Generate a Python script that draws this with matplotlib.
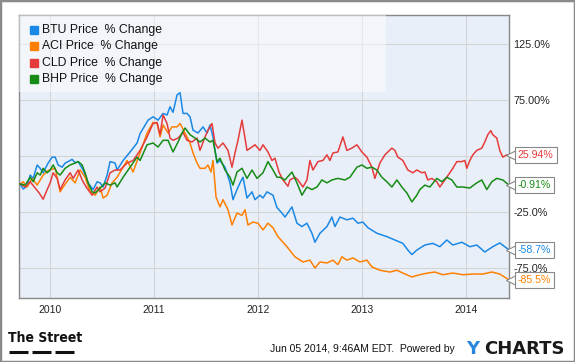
import numpy as np
import matplotlib
matplotlib.use('Agg')
import matplotlib.pyplot as plt
from matplotlib.patches import Rectangle
from matplotlib.lines import Line2D
import matplotlib.transforms as mtransforms

plt.rcParams['font.family'] = ['Liberation Sans', 'DejaVu Sans']

# weeks counted from the first week of 2010, % change since start
btu_w = [-15, -13.5, -11.5, -10, -8.5, -6.5, -5, -3.5, -1, 1, 2.5, 4, 6, 7.5, 9, 11, 12.5, 14, 16.5, 19,
         21.5, 23.5, 25, 26.5, 28.5, 30, 32.5, 33.5, 36.5, 40, 43.5, 45, 49, 51.5, 54, 56.5, 58.5, 60, 61.5,
         63.5, 65, 66.5, 68.5, 70, 71.5, 74, 76.5, 78.5, 80, 81.5, 83.5, 85, 87.5, 90, 91.5, 93.5, 95, 96.5,
         98.5, 101, 102.5, 105, 106.5, 108.5, 111.5, 113.5, 116, 117.5, 121, 123.5, 126, 128.5, 131, 132.5,
         135, 138.5, 141, 142.5, 145, 148.5, 151.5, 154, 156.5, 159, 163.5, 168.5, 172.5, 176.5, 179, 181,
         183.5, 187.5, 191.5, 195, 198.5, 201.5, 206, 210, 213.5, 217.5, 221.5, 225, 227.5, 229.5]
btu_v = [0, -4.5, -1.8, 8, 5, 17, 14, 10, 18.7, 24, 24, 17, 15, 18.7, 20, 22, 19, 20, 12.5, 1,
         -5, 2, 1, -2.7, 8, 20, 18.7, 12.5, 21, 28.6, 36.6, 45, 57, 60, 57, 63, 61.6, 69, 64,
         79.5, 81.5, 63, 63, 60, 48, 45.5, 51, 45.5, 52.7, 42, 18.7, 21, 15, 1, -14, -5, 1, 6,
         -12.5, -7, -14, -10, -12.5, -7, -10, -21, -26, -29.5, -20.5, -35, -38, -35, -44, -52,
         -44, -38, -29.5, -38, -29.5, -32, -30.5, -35, -34, -39, -44, -47, -50, -53, -59, -63,
         -59, -54.5, -53, -56, -50, -54.5, -52, -56, -54.5, -60.7, -56, -52.6, -56, -58.7]

aci_w = [-15, -13.5, -11.5, -9, -6.5, -3.5, -1, 2.5, 5, 6.5, 10, 12.5, 15, 17.5, 20, 22.5, 25, 26.5, 28.5,
         31, 33.5, 38.5, 41.5, 45, 48.5, 51.5, 53.5, 55, 56.5, 59, 61, 63.5, 65, 67.5, 70, 71.5, 73.5, 75,
         77.5, 79, 80.5, 81.5, 83, 85, 86.5, 89, 91, 93.5, 96, 97.5, 99, 101.5, 104, 106.5, 109, 111.5,
         114, 118.5, 122.5, 126.5, 130, 132.5, 135, 138.5, 141.5, 144, 146, 148.5, 151.5, 155, 158.5,
         161, 165, 170, 173.5, 176.5, 181, 185, 189, 192.5, 196.5, 201.5, 206.5, 211.5, 216.5, 221,
         225, 229.5]
aci_v = [0, 2, -2.7, 5, -1, 8, 12, 14, -7, -2.7, 6, 1, 12.5, 6, -7, -10, -2.7, -12.5, -10,
         1, 6, 21, 10.7, 27.7, 45.5, 55, 54, 42, 52.7, 45.5, 51, 51, 54, 45.5, 36.6, 27.7, 18.7, 14,
         14, 17, 10.7, 21, -11.6, -20.5, -14, -23, -36.6, -26, -28, -23, -36.6, -34, -35, -41, -35, -39,
         -47, -56, -65, -69.6, -68, -75, -69.6, -70.5, -68, -72, -65, -68, -66, -69.6, -68,
         -74, -77, -78.6, -77, -79.5, -83, -81, -79.5, -78.6, -81, -79.5, -81, -80.4, -80.4, -78.6,
         -80.4, -85.5]

cld_w = [-15, -12.5, -10, -7.5, -5.5, -3.5, -1.5, 0, 1.5, 3.5, 5, 7.5, 10, 11.5, 14, 16, 18, 21, 23.5, 25,
         27.5, 30, 32.5, 35, 38.5, 41.5, 45, 48.5, 51.5, 53.5, 55, 56.5, 58.5, 60, 61.5, 64, 66.5, 68.5,
         71, 73.5, 75, 77.5, 79, 81, 82.5, 84, 86.5, 89, 91, 92.5, 94, 96, 97.5, 98.5, 101, 102.5, 105,
         106.5, 109, 111, 112.5, 114.5, 116.5, 119, 120, 122.5, 124, 126.5, 128.5, 130, 131.5, 134, 136.5,
         138.5, 140, 141.5, 144, 146.5, 148.5, 151, 153.5, 156, 158.5, 161, 162.5, 165, 167.5, 169, 171,
         172.5, 174, 176.5, 179, 181.5, 183.5, 186, 187.5, 189, 191, 193.5, 195, 197.5, 200, 201.5,
         203.5, 206, 207.5, 208.5, 210, 211.5, 213.5, 216, 217.5, 219, 220.5, 221.5, 223.5, 225, 226.5,
         228.5, 229.5]
cld_v = [0, -2.7, 2, -3.6, -8, -13.6, -5, 1, 10, 5, -5, 3.6, 10, 5, 12.5, 3.6, -2.7, -10, -2.7, -7,
         -3.6, 10, 12.5, 12.5, 18.7, 21, 30, 42, 54, 55, 44, 61.6, 54, 41, 39, 41, 46, 39,
         37.5, 41, 30, 42, 48, 54, 36.6, 32, 36.6, 30, 15, 27.7, 39, 57, 41, 30, 33, 35, 30,
         35, 28.6, 21, 23, 10.7, 3.6, -2, 3.6, 6, 3.6, -2.7, 3.6, 21, 12.5, 20, 21,
         26, 21, 27.7, 28.6, 42, 30, 32, 35, 28.6, 24, 15, 5, 18.7, 26, 28.6, 32,
         30, 24, 21, 12.5, 10, 12.5, 10, 10.7, 3.6, 5, 2, -2.7, 3.6, 10, 14,
         20, 20, 21, 14, 21, 26, 30, 32, 37.5, 44, 47.7, 44, 41, 30, 24,
         26, 25.94]

bhp_w = [-15, -12.5, -10, -8.5, -6.5, -5, -3.5, -1.5, 0, 1.5, 3.5, 5, 7.5, 10, 12.5, 14, 16, 17.5, 19, 21,
         22.5, 25, 27.5, 30, 32.5, 33.5, 36.5, 40, 43.5, 45, 48.5, 51.5, 54, 56.5, 59, 61.5, 64, 66, 67.5,
         70, 72.5, 75, 77.5, 80, 81.5, 83.5, 85, 87.5, 90, 91.5, 93.5, 96, 98.5, 101, 103.5, 106.5, 109,
         111.5, 113.5, 115, 117.5, 121, 123.5, 126, 128.5, 131, 133.5, 136, 138.5, 141, 144, 147.5, 150,
         153.5, 156, 158.5, 161, 163.5, 166, 168.5, 171, 173.5, 176, 178.5, 181, 183.5, 185, 187.5, 190,
         193.5, 196, 198.5, 201, 203.5, 206.5, 210, 213.5, 216, 218.5, 221, 223.5, 226.5, 229.5]
bhp_v = [0, -1, 6, 2, 10, 8, 14, 10, 12.5, 17, 10, 8, 14, 17, 18.7, 20, 17, 10, 1, -7,
         -8, -3.6, 1, -1, 1, -2.7, 6, 15, 24, 21, 35, 36.6, 33, 39, 39, 28.6, 37.5, 45.5, 50,
         44, 41, 37.5, 41, 37.5, 39, 20, 23, 12.5, 6, -1, 10.7, 14, 5, 12.5, 5, 10, 20,
         12.5, 6, 6, 3.6, 10.7, 1, -10, -2.7, -5, -2.7, 3.6, 1, 3.6, 5, 3.6, 6,
         15, 17, 14, 15, 12.5, 6, 2, -2.7, 3.6, -2.7, -8, -16, -10, -5, -1, -2.7,
         5, 2, 6, 3.6, -2.7, -2.7, -3.6, 1, 3.6, -5, 2, 5, 3.6, -0.91]

names = ['BTU Price  % Change', 'ACI Price  % Change', 'CLD Price  % Change', 'BHP Price  % Change']
colors = ['#1a88e6', '#ff8000', '#e63b3b', '#168c16']
end_labels = ['-58.7%', '-85.5%', '25.94%', '-0.91%']
years = [2010, 2011, 2012, 2013, 2014]
y_ticks = [125, 75, 25, -25, -75]
y_ticklabels = ['125.0%', '75.00%', '', '-25.0%', '-75.0%']  # 25.0% sits under the CLD box

series = [(btu_w, btu_v), (aci_w, aci_v), (cld_w, cld_v), (bhp_w, bhp_v)]

fig = plt.figure(figsize=(5.75, 3.62), dpi=100)
fig.patch.set_facecolor('white')
ax = fig.add_axes([0.033, 0.178, 0.853, 0.7797])
ax.set_facecolor('#e9eff9')

for (w, v), c in zip(series, colors):
    t = 2010 + np.array(w) / 52.0
    ax.plot(t, v, color=c, lw=1.1, zorder=3, solid_joinstyle='round')

ax.set_xlim(2009.70, 2014.42)
ax.set_ylim(-101.4, 150.6)
ax.set_xticks(years)
ax.set_xticklabels([str(y) for y in years])
ax.set_yticks(y_ticks)
ax.set_yticklabels(y_ticklabels)
ax.yaxis.tick_right()
ax.tick_params(axis='both', length=0, colors='#222222')
ax.tick_params(axis='x', labelsize=7.5, pad=5)
ax.tick_params(axis='y', labelsize=7.8, pad=3)
ax.grid(True, color='#d4d4d4', lw=0.8, zorder=0)
ax.set_axisbelow(True)
for s in ax.spines.values():
    s.set_color('#888888')
    s.set_linewidth(1.0)

# legend box
ax.add_patch(Rectangle((0, 0.728), 0.748, 0.272, transform=ax.transAxes,
                       facecolor='white', alpha=0.45, edgecolor='none', zorder=4))
rows = [0.949, 0.891, 0.832, 0.773]
for name, c, yr in zip(names, colors, rows):
    ax.plot([0.030], [yr], marker='s', ms=5.5, color=c, transform=ax.transAxes,
            linestyle='none', zorder=5)
    ax.text(0.047, yr, name, transform=ax.transAxes, fontsize=8.8, va='center',
            ha='left', color='#111111', zorder=5)

# end value labels
trans = mtransforms.blended_transform_factory(ax.transAxes, ax.transData)
for (w, v), c, lab in zip(series, colors, end_labels):
    ax.plot([1.004], [v[-1]], marker='<', ms=7, mfc='white', mec='#888888', mew=0.8,
            transform=trans, clip_on=False, zorder=6)
    ax.text(1.017, v[-1], lab, transform=trans, fontsize=7.6, color=c, va='center',
            ha='left', zorder=7, clip_on=False,
            bbox=dict(boxstyle='square,pad=0.3', facecolor='white', edgecolor='#888888', lw=0.8))

# footer
fig.text(0.0139, 0.066, 'The Street', fontsize=10, fontweight='heavy', fontstretch='condensed',
         family='DejaVu Sans', va='center', ha='left', color='#111111')
for x0, x1 in [(9, 28), (32, 51), (55, 74)]:
    fig.add_artist(Line2D([x0 / 575, x1 / 575], [0.0276, 0.0276], color='#111111', lw=2.2,
                          transform=fig.transFigure, solid_capstyle='butt'))
fig.text(0.4696, 0.036, 'Jun 05 2014, 9:46AM EDT.  Powered by', fontsize=7.5,
         va='center', ha='left', color='#111111')
fig.text(479 / 575, 0.036, 'Y', fontsize=13, fontweight='bold', family='DejaVu Sans',
         va='center', ha='right', color='#2a86dd')
fig.text(0.9826, 0.036, 'CHARTS', fontsize=13, fontweight='bold', family='DejaVu Sans',
         va='center', ha='right', color='#1a1a1a')

fig.add_artist(Rectangle((0, 0), 1, 1, transform=fig.transFigure, fill=False,
                         edgecolor='#8a8a8a', lw=2.5))

fig.savefig('out.png', dpi=100)
